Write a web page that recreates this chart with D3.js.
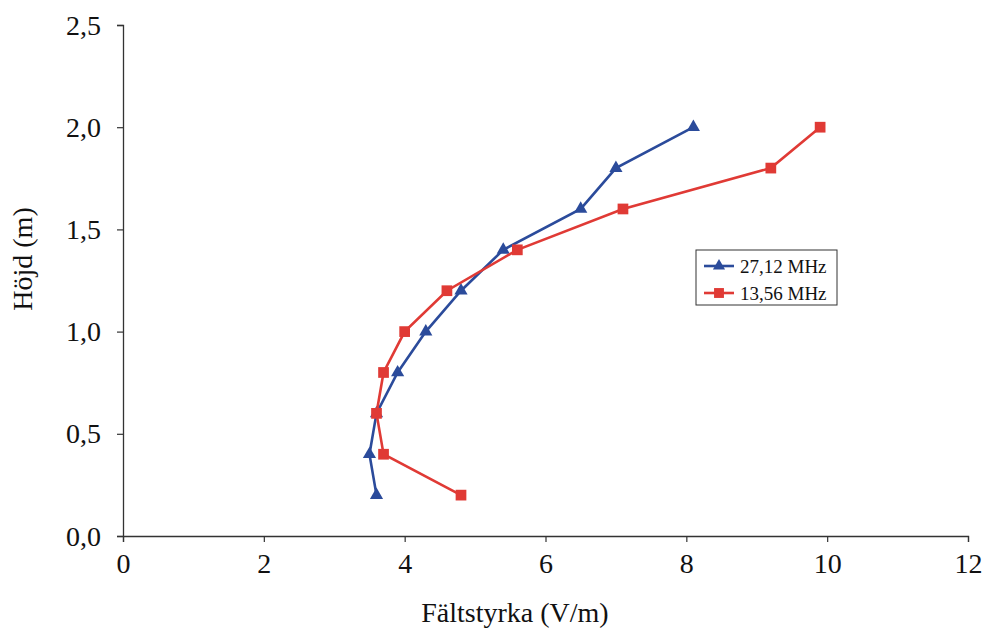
<!DOCTYPE html>
<html>
<head>
<meta charset="utf-8">
<script src="https://cdn.jsdelivr.net/npm/d3@7"></script>
<style>
  html, body { margin: 0; padding: 0; background: #fff; }
  svg { display: block; }
  text { font-family: "Liberation Serif", "Times New Roman", serif; fill: #111; }
</style>
</head>
<body>
<svg id="chart" width="992" height="630"></svg>
<script>
// Field strength (V/m) measured at each height (m)
const heights = [0.2, 0.4, 0.6, 0.8, 1.0, 1.2, 1.4, 1.6, 1.8, 2.0];
const field27 = [3.6, 3.5, 3.6, 3.9, 4.3, 4.8, 5.4, 6.5, 7.0, 8.1];
const field13 = [4.8, 3.7, 3.6, 3.7, 4.0, 4.6, 5.6, 7.1, 9.2, 9.9];
const seriesNames = ["27,12 MHz", "13,56 MHz"];
const xTicks = [0, 2, 4, 6, 8, 10, 12];
const yTicks = [0, 0.5, 1.0, 1.5, 2.0, 2.5];

const svg = d3.select("#chart");
const plot = { left: 123, right: 968, top: 25, bottom: 536 };

const x = d3.scaleLinear().domain([0, 12]).range([plot.left, plot.right]);
const y = d3.scaleLinear().domain([0, 2.5]).range([plot.bottom, plot.top]);

const fmt = v => d3.format(".1f")(v).replace(".", ",");

// axes
const xAxis = svg.append("g")
  .attr("transform", `translate(0,${plot.bottom})`)
  .call(d3.axisBottom(x).tickValues(xTicks).tickSize(6).tickFormat(d3.format("d")));
const yAxis = svg.append("g")
  .attr("transform", `translate(${plot.left},0)`)
  .call(d3.axisLeft(y).tickValues(yTicks).tickSize(6).tickPadding(16).tickFormat(fmt));

[xAxis, yAxis].forEach(g => {
  g.select(".domain").attr("stroke", "#333").attr("stroke-width", 1.3);
  g.selectAll(".tick line").attr("stroke", "#333").attr("stroke-width", 1.2);
  g.selectAll(".tick text")
    .style("font-family", "'Liberation Serif', serif")
    .style("font-size", "28px")
    .attr("fill", "#111");
});
xAxis.selectAll(".tick text").attr("y", 37).attr("dy", 0);
yAxis.selectAll(".tick text").attr("y", 9).attr("dy", 0);

// axis titles
svg.append("text")
  .attr("x", 515).attr("y", 622)
  .attr("text-anchor", "middle")
  .style("font-size", "28px")
  .text("Fältstyrka (V/m)");
svg.append("text")
  .attr("transform", "translate(32,259) rotate(-90)")
  .attr("text-anchor", "middle")
  .style("font-size", "28px")
  .text("Höjd (m)");

const series = [
  { name: seriesNames[0], values: field27, color: "#2b4b9b", shape: d3.symbolTriangle, size: 75 },
  { name: seriesNames[1], values: field13, color: "#e03a35", shape: d3.symbolSquare, size: 115 }
];

const line = d3.line().x(d => x(d[0])).y(d => y(d[1]));

series.forEach(s => {
  const pts = heights.map((h, i) => [s.values[i], h]);
  svg.append("path")
    .datum(pts)
    .attr("fill", "none")
    .attr("stroke", s.color)
    .attr("stroke-width", 2.6)
    .attr("d", line);
  svg.selectAll(null)
    .data(pts)
    .join("path")
    .attr("transform", d => `translate(${x(d[0])},${y(d[1])})`)
    .attr("d", d3.symbol().type(s.shape).size(s.size))
    .attr("fill", s.color);
});

// legend
const lg = svg.append("g").attr("transform", "translate(696,250)");
lg.append("rect")
  .attr("width", 141).attr("height", 55)
  .attr("fill", "#fff").attr("stroke", "#333").attr("stroke-width", 1);
series.forEach((s, i) => {
  const cy = 16 + i * 27;
  lg.append("line")
    .attr("x1", 8).attr("x2", 38).attr("y1", cy).attr("y2", cy)
    .attr("stroke", s.color).attr("stroke-width", 2.6);
  lg.append("path")
    .attr("transform", `translate(23,${cy})`)
    .attr("d", d3.symbol().type(s.shape).size(s.size * 0.85))
    .attr("fill", s.color);
  lg.append("text")
    .attr("x", 44).attr("y", cy).attr("dy", "0.35em")
    .style("font-size", "19px")
    .text(s.name);
});
</script>
</body>
</html>
